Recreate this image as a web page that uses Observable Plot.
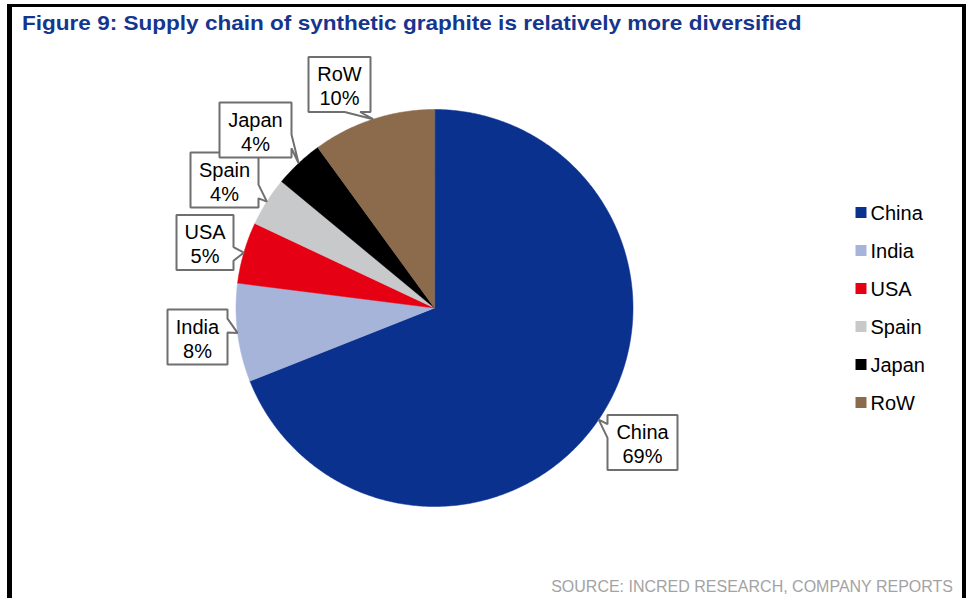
<!DOCTYPE html>
<html>
<head>
<meta charset="utf-8">
<script src="https://cdn.jsdelivr.net/npm/d3@7"></script>
<script src="https://cdn.jsdelivr.net/npm/@observablehq/plot@0.6"></script>
<style>
  html, body { margin: 0; padding: 0; background: #fff; }
  body { width: 971px; height: 598px; position: relative; overflow: hidden; font-family: Arial, "Liberation Sans", sans-serif; }
  #frame { position: absolute; left: 7px; top: 4px; width: 950px; height: 620px; border-left: 5px solid #000; border-top: 3px solid #000; border-right: 4px solid #000; z-index: 5; pointer-events: none; }
  #title { position: absolute; left: 22px; top: 12px; font-size: 20.5px; font-weight: bold; color: #15358e; line-height: 22px; white-space: nowrap; transform: scaleX(1.1); transform-origin: 0 0; z-index: 6; }
  #chart { position: absolute; left: 0; top: 40px; z-index: 1; }
  #source { position: absolute; right: 18px; top: 578px; font-size: 16px; color: #a3a3a3; line-height: 18px; white-space: nowrap; z-index: 6; }
</style>
</head>
<body>
<div id="chart"></div>
<div id="frame"></div>
<div id="title">Figure 9: Supply chain of synthetic graphite is relatively more diversified</div>
<div id="source">SOURCE: INCRED RESEARCH, COMPANY REPORTS</div>
<script>
// ---- data ----
const countries = ["China", "India", "USA", "Spain", "Japan", "RoW"];
const shares = [69, 8, 5, 4, 4, 10];
const sliceColors = ["#0b318f", "#a7b4d9", "#e60013", "#c8c9cb", "#000000", "#8b6b4b"];

// ---- layout (pixel offsets of callout boxes from pie centre, y down) ----
const R = 198.5;
const boxDx = [208, -237, -229.5, -210, -179, -95];
const boxDy = [134.5, 29, -65.5, -128, -178, -223.5];
const boxW = [70, 60, 57, 68, 72, 62];
const boxH = 55;
const tailSide = ["left", "right", "right", "right", "right", "bottom"];

const pie = d3.pie().sort(null).value(d => d.share)(countries.map((c, i) => ({name: c, share: shares[i]})));

// wedge polygons in radius units (y up)
const wedgePts = [];
pie.forEach(p => {
  const name = p.data.name;
  wedgePts.push({name, x: 0, y: 0});
  const n = Math.max(2, Math.ceil((p.endAngle - p.startAngle) / (Math.PI / 360)));
  for (let k = 0; k <= n; k++) {
    const a = p.startAngle + (p.endAngle - p.startAngle) * k / n;
    wedgePts.push({name, x: Math.sin(a), y: Math.cos(a)});
  }
});

// callout polygons
const calloutPts = [];
const labelPos = [];
pie.forEach((p, i) => {
  const name = p.data.name;
  const mid = (p.startAngle + p.endAngle) / 2;
  const tip = [Math.sin(mid) * R, -Math.cos(mid) * R]; // px, y down
  const cx = boxDx[i], cy = boxDy[i], w = boxW[i], h = boxH;
  const L = cx - w / 2, Rr = cx + w / 2, T = cy - h / 2, B = cy + h / 2;
  let pts;
  const side = tailSide[i];
  if (side === "right" || side === "left") {
    const f = tip[1] > cy ? [7 / 12, 10 / 12] : [2 / 12, 5 / 12];
    const y1 = T + h * f[0], y2 = T + h * f[1];
    if (side === "right") pts = [[L, T], [Rr, T], [Rr, y1], tip, [Rr, y2], [Rr, B], [L, B]];
    else pts = [[L, T], [Rr, T], [Rr, B], [L, B], [L, y2], tip, [L, y1]];
  } else {
    const f = tip[0] > cx ? [7 / 12, 10 / 12] : [2 / 12, 5 / 12];
    const x1 = L + w * f[0], x2 = L + w * f[1];
    pts = [[L, T], [Rr, T], [Rr, B], [x2, B], tip, [x1, B], [L, B]];
  }
  pts.forEach(([px, py]) => calloutPts.push({name, x: px / R, y: -py / R}));
  labelPos.push({name, x: cx / R, y: -cy / R, label: name + "\n" + Math.round(p.data.share) + "%"});
});

// legend
const legend = countries.map((c, i) => ({name: c, x: 426.5 / R, tx: 436 / R, y: (95.5 - 38 * i) / R}));

const cxPx = 434, cyPx = 267.5;
const chart = Plot.plot({
  width: 971,
  height: 530,
  margin: 0,
  x: {domain: [-1, 1], range: [cxPx - R, cxPx + R], axis: null},
  y: {domain: [-1, 1], range: [cyPx + R, cyPx - R], axis: null},
  color: {domain: countries, range: sliceColors},
  style: {fontFamily: "Arial, 'Liberation Sans', sans-serif", background: "transparent", overflow: "visible"},
  marks: [
    Plot.line(wedgePts, {x: "x", y: "y", z: "name", fill: "name", stroke: "name", strokeWidth: 0.5, curve: "linear-closed"}),
    Plot.line(calloutPts, {x: "x", y: "y", z: "name", fill: "white", stroke: "#6f6f6f", strokeWidth: 2, strokeLinejoin: "miter", curve: "linear-closed"}),
    Plot.text(labelPos, {x: "x", y: "y", text: "label", fontSize: 20, lineHeight: 1.2, fill: "#000", dy: 1}),
    Plot.dot(legend, {x: "x", y: "y", fill: "name", symbol: "square", r: 6.2, stroke: null}),
    Plot.text(legend, {x: "tx", y: "y", text: "name", textAnchor: "start", fontSize: 20, fill: "#000", dy: 1})
  ]
});
document.getElementById("chart").appendChild(chart);
</script>
</body>
</html>
